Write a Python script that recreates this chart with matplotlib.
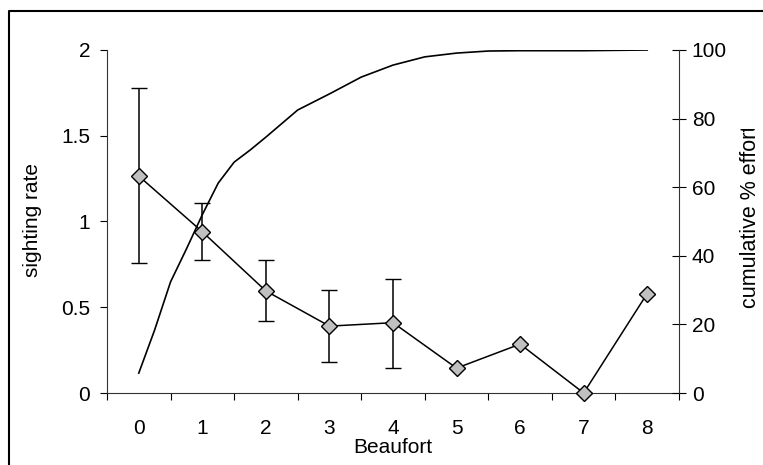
import numpy as np
import matplotlib.pyplot as plt
from matplotlib.lines import Line2D
from matplotlib.transforms import Bbox, TransformedBbox

plt.rcParams['font.family'] = ['Liberation Sans', 'DejaVu Sans']

# sighting rate per Beaufort state, with error bar limits
beaufort = [0, 1, 2, 3, 4, 5, 6, 7, 8]
rate = [1.265, 0.94, 0.595, 0.39, 0.41, 0.145, 0.285, 0.0, 0.58]
rate_hi = [1.78, 1.11, 0.775, 0.60, 0.665, 0.145, 0.285, 0.0, 0.58]
rate_lo = [0.76, 0.775, 0.42, 0.18, 0.145, 0.145, 0.285, 0.0, 0.58]

# cumulative % of effort
cum_x = [0, 0.25, 0.5, 0.75, 1, 1.25, 1.5, 1.75, 2, 2.5, 3, 3.5, 4, 4.5,
         5, 5.5, 6, 6.5, 7, 7.5, 8]
cum_pct = [5.8, 18.4, 32.4, 42, 52, 61.2, 67.3, 70.8, 74.6, 82.5, 87.2, 92.1,
           95.6, 98, 99.1, 99.7, 99.8, 99.8, 99.8, 99.9, 100]

left_ticks = [0, 0.5, 1, 1.5, 2]
left_labels = ['0', '0.5', '1', '1.5', '2']
right_ticks = [0, 20, 40, 60, 80, 100]

fig = plt.figure(figsize=(7.63, 4.65), dpi=100)
ax = fig.add_axes([107/763, 72/465, 572/763, 343/465])

rate = np.array(rate)
yerr = [rate - np.array(rate_lo), np.array(rate_hi) - rate]
eb = ax.errorbar(beaufort, rate, yerr=yerr, color='black', lw=1.1,
                 elinewidth=1.1, capsize=5.6, capthick=1.1, marker='D', ms=8.4,
                 mfc='#c0c0c0', mec='black', mew=1.0, zorder=3)
for art in eb.get_children():
    art.set_clip_on(False)

ax.set_xlim(-0.5, 8.5)
ax.set_ylim(0, 2)
ax.set_yticks(left_ticks)
ax.set_yticklabels(left_labels)
ax.set_xticks(beaufort)
ax.set_xticks(np.arange(-0.5, 9, 1), minor=True)
ax.tick_params(axis='x', which='major', length=0, pad=19, labelsize=15)
ax.tick_params(axis='x', which='minor', length=5, width=0.8, direction='out')
ax.tick_params(axis='y', length=5, width=0.8, direction='out', pad=7, labelsize=15)
for s in ['top', 'right']:
    ax.spines[s].set_visible(False)
for s in ['left', 'bottom']:
    ax.spines[s].set_linewidth(0.8)
    ax.spines[s].set_color('#333333')

ax2 = ax.twinx()
ax2.plot(cum_x, cum_pct, color='black', lw=1.2, zorder=4)
ax2.set_ylim(0, 100)
ax2.set_yticks(right_ticks)
ax2.tick_params(axis='y', length=9.4, width=0.8, direction='inout', pad=4.5,
                labelsize=15)
for s in ['top', 'left', 'bottom']:
    ax2.spines[s].set_visible(False)
ax2.spines['right'].set_linewidth(0.8)
ax2.spines['right'].set_color('#333333')

fig.text(32/763, 1 - 220/465, 'sighting rate', rotation=90, ha='center',
         va='center', fontsize=15)
fig.text(393/763, 1 - 453/465, 'Beaufort', ha='center', va='baseline',
         fontsize=15)
# right label runs past the chart area; its last letter is cut off
rlab = fig.text(751/763, 1 - 308/465, 'cumulative % effort', rotation=90,
                ha='center', va='bottom', fontsize=15.5)
rlab.set_clip_box(TransformedBbox(Bbox([[0, 0], [1, 1 - 129/465]]),
                                  fig.transFigure))
rlab.set_clip_on(True)

# outer frame of the chart area
fig.add_artist(Line2D([9/763, 9/763, 1.05], [-0.05, 1 - 11/465, 1 - 11/465],
                      transform=fig.transFigure, color='black', lw=1.5))

fig.savefig('out.png', dpi=100)
